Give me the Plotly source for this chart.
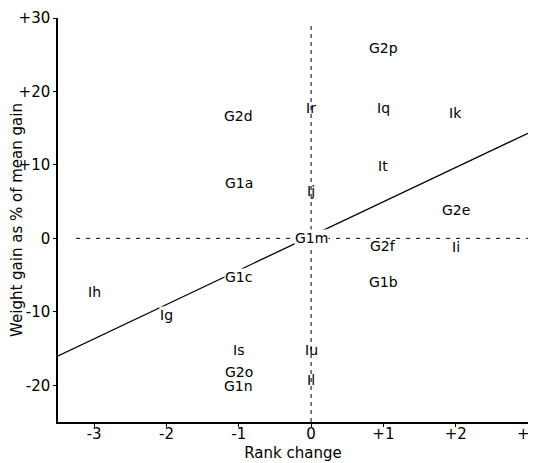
import plotly.graph_objects as go

labels = ["G2p", "Ir", "Iq", "Ik", "G2d", "G1a", "Ij", "It", "G2e", "G1m", "G2f", "Ii",
          "G1c", "G1b", "Ih", "Ig", "Is", "Iu", "G2o", "G1n", "Il"]
rank_change = [1, 0, 1, 2, -1, -1, 0, 1, 2, 0, 1, 2,
               -1, 1, -3, -2, -1, 0, -1, -1, 0]
weight_gain = [25.9, 17.8, 17.8, 17.0, 16.7, 7.6, 6.5, 9.9, 3.8, 0.0, -1.0, -1.2,
               -5.3, -6.0, -7.3, -10.5, -15.2, -15.2, -18.2, -20.1, -19.3]

reg_x = [-3.5, 3.0]
reg_y = [-16.0, 14.3]

x_ticks = [-3, -2, -1, 0, 1, 2, 3]
x_tick_text = ["-3", "-2", "-1", "0", "+1", "+2", "+3"]
y_ticks = [-20, -10, 0, 10, 20, 30]
y_tick_text = ["-20", "-10", "0", "+10", "+20", "+30"]

slope = (reg_y[1] - reg_y[0]) / (reg_x[1] - reg_x[0])
icpt = reg_y[0] - slope * reg_x[0]

FONT = "DejaVu Sans"

fig = go.Figure()
# zero reference lines
fig.add_trace(go.Scatter(x=[-3.25, 3.0], y=[0, 0], mode="lines",
                         line=dict(color="black", width=1, dash="4px,6px"),
                         hoverinfo="skip", showlegend=False))
fig.add_trace(go.Scatter(x=[0, 0], y=[-25, 29.3], mode="lines",
                         line=dict(color="black", width=1, dash="4px,4px"),
                         hoverinfo="skip", showlegend=False))
# regression line
fig.add_trace(go.Scatter(x=reg_x, y=reg_y, mode="lines",
                         line=dict(color="black", width=1.3),
                         hoverinfo="skip", showlegend=False))

for lab, xv, yv in zip(labels, rank_change, weight_gain):
    on_line = abs(yv - (slope * xv + icpt)) < 2.0
    fig.add_annotation(x=xv, y=yv, text=lab, showarrow=False,
                       font=dict(family=FONT, size=14, color="black"),
                       bgcolor="white" if on_line else "rgba(0,0,0,0)",
                       borderpad=0)

fig.update_xaxes(range=[-3.5, 3.0], tickvals=x_ticks, ticktext=x_tick_text,
                 showline=True, linecolor="black", linewidth=1.5, mirror=False,
                 ticks="outside", ticklen=3, tickcolor="black", showgrid=False,
                 zeroline=False, automargin=False, ticklabeloverflow="allow",
                 ticklabelstandoff=-6,
                 title=dict(text="Rank change", standoff=6,
                            font=dict(family=FONT, size=15, color="black")),
                 tickfont=dict(family=FONT, size=15, color="black"))
fig.update_yaxes(range=[-25, 30], tickvals=y_ticks, ticktext=y_tick_text,
                 showline=True, linecolor="black", linewidth=1.5, mirror=False,
                 ticks="outside", ticklen=3, tickcolor="black", showgrid=False,
                 zeroline=False, automargin=False, ticklabeloverflow="allow",
                 title=dict(text="Weight gain as % of mean gain", standoff=4,
                            font=dict(family=FONT, size=15, color="black")),
                 tickfont=dict(family=FONT, size=15, color="black"))

# page body adds an 8px offset, so the figure is sized/offset to compensate
fig.update_layout(width=528, height=455, margin=dict(l=50, r=8, t=10, b=41),
                  paper_bgcolor="white", plot_bgcolor="white",
                  font=dict(family=FONT, color="black"))

fig.write_html("out.html")
